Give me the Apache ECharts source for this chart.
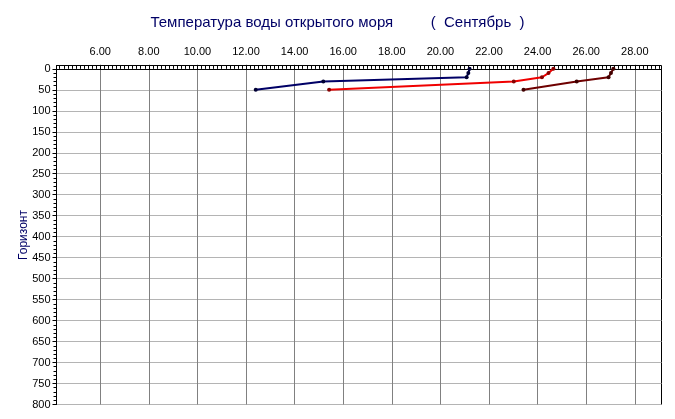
<!DOCTYPE html>
<html>
<head>
<meta charset="utf-8">
<script src="https://cdn.jsdelivr.net/npm/echarts@6/dist/echarts.min.js"></script>
<style>
html,body{margin:0;padding:0;background:#fff;}
#c{width:675px;height:419px;}
</style>
</head>
<body>
<div id="c"></div>
<script>
// Data
var depths = [0, 10, 20, 30, 50];
var seriesNavy = [21.20, 21.15, 21.08, 15.18, 12.40];
var seriesRed = [24.65, 24.45, 24.18, 23.02, 15.42];
var seriesMaroon = [27.12, 27.02, 26.92, 25.61, 23.42];
var xTickLabels = [6, 8, 10, 12, 14, 16, 18, 20, 22, 24, 26, 28];
var yTickLabels = [0, 50, 100, 150, 200, 250, 300, 350, 400, 450, 500, 550, 600, 650, 700, 750, 800];

var X_MIN = 4.2, X_MAX = 29.1, Y_MIN = -8, Y_MAX = 800;

function pairs(temps) {
  return temps.map(function (t, i) { return [t, depths[i]]; });
}
var xMinor = [];
for (var k = 0; k * (1 / 6) + 4 <= X_MAX + 1e-9; k++) {
  var v = 4 + k / 6;
  if (v >= X_MIN - 1e-9) xMinor.push(+v.toFixed(4));
}
var yMinor = [];
for (var d = 0; d <= 800; d += 10) yMinor.push(d);

var font = '"Liberation Sans", Arial, sans-serif';
var chart = echarts.init(document.getElementById('c'), null, {renderer: 'canvas'});
chart.setOption({
  backgroundColor: '#fff',
  animation: false,
  title: {
    text: 'Температура воды открытого моря         (  Сентябрь  )',
    left: 'center',
    top: 10,
    textStyle: {color: '#000066', fontSize: 15, fontWeight: 'normal', fontFamily: font}
  },
  grid: {
    left: 56.5, right: 13.5, top: 65.5, bottom: 14.5,
    show: true, borderColor: '#000', borderWidth: 1, backgroundColor: '#fff'
  },
  xAxis: [
    {
      type: 'value', position: 'top', min: X_MIN, max: X_MAX,
      axisLine: {show: true, lineStyle: {color: '#000', width: 1}},
      axisTick: {show: true, length: 4, customValues: xTickLabels, lineStyle: {color: '#000'}},
      axisLabel: {show: true, customValues: xTickLabels, margin: 8, color: '#000', fontSize: 11, fontFamily: font,
        formatter: function (v) { return v.toFixed(2); }},
      splitLine: {show: true, lineStyle: {color: '#808080', width: 1}}
    },
    {
      type: 'value', position: 'top', min: X_MIN, max: X_MAX,
      axisLine: {show: false},
      axisTick: {show: true, length: 3, customValues: xMinor, lineStyle: {color: '#000'}},
      axisLabel: {show: false, customValues: xMinor},
      splitLine: {show: false}
    }
  ],
  yAxis: [
    {
      type: 'value', inverse: true, min: Y_MIN, max: Y_MAX,
      name: 'Горизонт', nameLocation: 'middle', nameGap: 27, nameRotate: 90,
      nameMoveOverlap: false,
      nameTextStyle: {color: '#000066', fontSize: 12, fontFamily: font},
      axisLine: {show: true, lineStyle: {color: '#000', width: 1}},
      axisTick: {show: true, length: 4, customValues: yTickLabels, lineStyle: {color: '#000'}},
      axisLabel: {show: true, customValues: yTickLabels, margin: 6, color: '#000', fontSize: 11, fontFamily: font},
      splitLine: {show: true, lineStyle: {color: '#b4b4b4', width: 1}}
    },
    {
      type: 'value', inverse: true, min: Y_MIN, max: Y_MAX, position: 'left',
      axisLine: {show: false},
      axisTick: {show: true, length: 3, customValues: yMinor, lineStyle: {color: '#000'}},
      axisLabel: {show: false, customValues: yMinor},
      splitLine: {show: false}
    }
  ],
  series: [
    {type: 'line', xAxisIndex: 0, yAxisIndex: 0, data: pairs(seriesNavy),
      lineStyle: {color: '#000066', width: 2}, itemStyle: {color: '#000033'},
      symbol: 'circle', symbolSize: 4, showSymbol: true},
    {type: 'line', xAxisIndex: 0, yAxisIndex: 0, data: pairs(seriesRed),
      lineStyle: {color: '#f00000', width: 2}, itemStyle: {color: '#880000'},
      symbol: 'circle', symbolSize: 4, showSymbol: true},
    {type: 'line', xAxisIndex: 0, yAxisIndex: 0, data: pairs(seriesMaroon),
      lineStyle: {color: '#6e0000', width: 2}, itemStyle: {color: '#400000'},
      symbol: 'circle', symbolSize: 4, showSymbol: true}
  ]
});
</script>
</body>
</html>
